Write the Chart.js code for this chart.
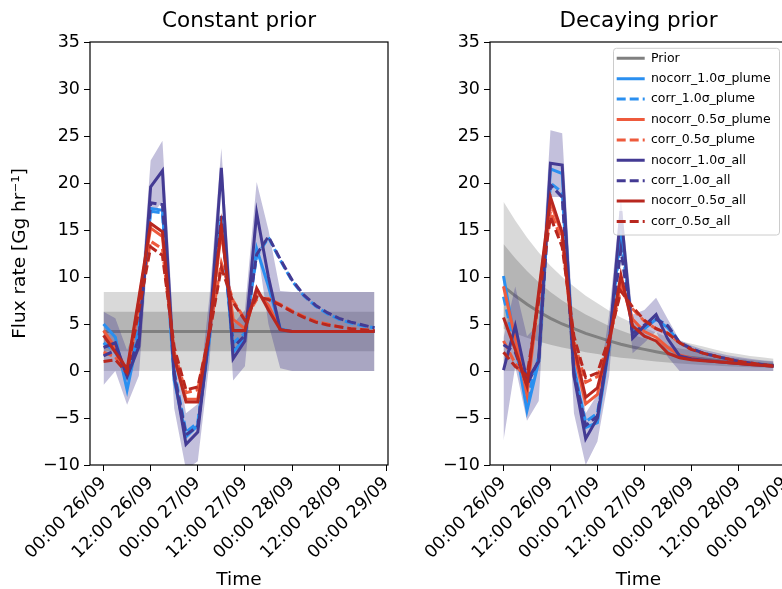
<!DOCTYPE html>
<html>
<head>
<meta charset="utf-8">
<script src="https://cdn.jsdelivr.net/npm/chart.js@4.4.0/dist/chart.umd.min.js"></script>
<style>
html, body { margin: 0; padding: 0; background: #fff; overflow: hidden; width: 782px; height: 589px; }
.panel { position: absolute; top: 0; height: 589px; }
#left  { left: 0;     width: 395px; }
#right { left: 400px; width: 394px; }
</style>
</head>
<body>
<div class="panel" id="left"><canvas id="constChart"></canvas></div>
<div class="panel" id="right"><canvas id="decayChart"></canvas></div>
<script>
/* ========= DATA ========= */
const hours = [0,3,6,9,12,15,18,21,24,27,30,33,36,39,42,45,48,51,54,57,60,63,66,69];
const tickHours  = [0,12,24,36,48,60,72];
const tickLabels = ["00:00 26/09","12:00 26/09","00:00 27/09","12:00 27/09","00:00 28/09","12:00 28/09","00:00 29/09"];
const yTicks = [-10,-5,0,5,10,15,20,25,30,35];

const seriesNames = [
  "nocorr_1.0σ_plume", "corr_1.0σ_plume",
  "nocorr_0.5σ_plume", "corr_0.5σ_plume",
  "nocorr_1.0σ_all",   "corr_1.0σ_all",
  "nocorr_0.5σ_all",   "corr_0.5σ_all"
];

// constant prior panel
const constPrior   = [4.2,4.2,4.2,4.2,4.2,4.2,4.2,4.2,4.2,4.2,4.2,4.2,4.2,4.2,4.2,4.2,4.2,4.2,4.2,4.2,4.2,4.2,4.2,4.2];
const constInnerUp = [6.3,6.3,6.3,6.3,6.3,6.3,6.3,6.3,6.3,6.3,6.3,6.3,6.3,6.3,6.3,6.3,6.3,6.3,6.3,6.3,6.3,6.3,6.3,6.3];
const constInnerLo = [2.1,2.1,2.1,2.1,2.1,2.1,2.1,2.1,2.1,2.1,2.1,2.1,2.1,2.1,2.1,2.1,2.1,2.1,2.1,2.1,2.1,2.1,2.1,2.1];
const constOuterUp = [8.4,8.4,8.4,8.4,8.4,8.4,8.4,8.4,8.4,8.4,8.4,8.4,8.4,8.4,8.4,8.4,8.4,8.4,8.4,8.4,8.4,8.4,8.4,8.4];
const constOuterLo = [0,0,0,0,0,0,0,0,0,0,0,0,0,0,0,0,0,0,0,0,0,0,0,0];
const constNP10 = [5.0,3.6,-2.0,4.0,17.3,17.1,-1.0,-7.0,-5.8,3.5,16.4,2.0,3.5,13.0,9.0,4.5,4.2,4.2,4.2,4.2,4.2,4.2,4.2,4.2];
const constCP10 = [3.0,2.0,-0.5,4.5,17.0,16.8,0.0,-6.5,-5.5,4.0,16.0,3.0,4.0,12.2,14.2,11.8,9.6,8.0,6.9,6.1,5.5,5.1,4.8,4.6];
const constNP05 = [4.3,2.5,0.0,7.5,15.2,14.3,1.5,-3.0,-3.0,4.5,14.8,5.5,4.5,8.5,7.0,4.4,4.2,4.2,4.2,4.2,4.2,4.2,4.2,4.2];
const constCP05 = [2.0,1.5,-0.3,7.0,13.8,13.0,2.0,-2.3,-2.0,4.2,11.5,7.5,5.5,7.6,7.7,7.1,6.4,5.8,5.3,5.0,4.7,4.5,4.4,4.3];
const constNA10 = [2.5,3.0,-0.6,2.6,19.6,21.3,-0.5,-7.8,-6.5,4.3,21.6,1.3,3.2,16.8,10.0,4.4,4.2,4.2,4.2,4.2,4.2,4.2,4.2,4.2];
const constCA10 = [1.6,2.2,-0.2,3.5,17.9,17.7,-0.3,-6.8,-5.9,4.2,16.5,2.5,3.8,12.4,14.3,11.9,9.7,8.1,7.0,6.2,5.6,5.2,4.9,4.6];
const constNA05 = [3.8,2.0,0.2,7.8,15.7,14.8,1.5,-3.3,-3.3,4.5,15.4,4.3,4.3,8.8,6.5,4.4,4.2,4.2,4.2,4.2,4.2,4.2,4.2,4.2];
const constCA05 = [1.0,1.2,-0.2,6.5,13.2,12.3,2.5,-2.0,-1.7,4.0,11.0,7.3,5.4,7.9,7.6,7.0,6.3,5.7,5.2,4.9,4.7,4.5,4.4,4.3];
const constBandUp = [6.3,5.6,2.2,5.5,22.4,24.5,3.0,-4.5,-3.5,8.0,23.7,5.0,6.5,20.1,15.0,8.5,8.4,8.4,8.4,8.4,8.4,8.4,8.4,8.4];
const constBandLo = [-1.5,0.0,-3.6,-0.5,16.5,18.0,-4.0,-10.5,-9.6,1.0,19.5,-1.0,0.5,13.5,5.0,0.3,0,0,0,0,0,0,0,0];

// decaying prior panel
const decayPrior   = [9.0,8.0,7.1,6.3,5.6,5.0,4.5,4.0,3.6,3.2,2.85,2.55,2.3,2.05,1.8,1.6,1.45,1.3,1.15,1.0,0.9,0.8,0.72,0.65];
const decayInnerUp = [13.5,12.0,10.65,9.45,8.4,7.5,6.75,6.0,5.4,4.8,4.3,3.85,3.45,3.1,2.7,2.4,2.2,1.95,1.7,1.5,1.35,1.2,1.08,0.98];
const decayInnerLo = [4.5,4.0,3.55,3.15,2.8,2.5,2.25,2.0,1.8,1.6,1.4,1.3,1.15,1.0,0.9,0.8,0.72,0.65,0.58,0.5,0.45,0.4,0.36,0.33];
const decayOuterUp = [18.0,16.0,14.2,12.6,11.2,10.0,9.0,8.0,7.2,6.4,5.7,5.1,4.6,4.1,3.6,3.2,2.9,2.6,2.3,2.0,1.8,1.6,1.45,1.3];
const decayOuterLo = [0,0,0,0,0,0,0,0,0,0,0,0,0,0,0,0,0,0,0,0,0,0,0,0];
const decayNP10 = [10.1,3.0,-4.2,1.0,21.5,21.0,0.5,-6.0,-5.5,2.5,15.5,4.0,4.5,5.5,4.6,3.0,2.3,1.9,1.6,1.3,1.05,0.85,0.7,0.55];
const decayCP10 = [7.9,2.5,-3.0,1.5,20.0,19.0,0.0,-5.4,-4.5,3.0,14.3,4.2,4.8,5.6,4.8,3.0,2.4,1.9,1.6,1.3,1.05,0.85,0.7,0.55];
const decayNP05 = [9.0,3.5,-2.5,8.0,18.0,14.5,2.0,-3.5,-2.5,3.0,9.5,5.5,4.2,3.6,2.5,1.7,1.35,1.15,1.0,0.9,0.8,0.7,0.6,0.5];
const decayCP05 = [3.2,0.8,-1.0,7.8,17.0,13.8,3.2,-1.2,-0.6,3.3,8.8,6.6,5.3,4.5,4.0,3.0,2.3,1.9,1.6,1.3,1.05,0.85,0.7,0.55];
const decayNA10 = [0.1,4.8,-1.0,1.0,22.1,21.9,-0.5,-7.2,-5.0,2.8,17.0,3.5,4.8,6.0,3.4,1.6,1.3,1.15,1.0,0.9,0.8,0.7,0.6,0.5];
const decayCA10 = [2.8,2.0,-1.5,1.2,19.8,18.5,-0.2,-5.8,-4.8,3.0,12.9,4.0,4.9,5.5,4.8,3.0,2.4,1.9,1.6,1.3,1.05,0.85,0.7,0.55];
const decayNA05 = [5.7,2.3,-1.6,8.4,18.5,14.7,2.6,-2.8,-1.8,3.0,10.2,4.8,3.7,3.2,1.9,1.4,1.2,1.1,1.0,0.9,0.8,0.7,0.6,0.5];
const decayCA05 = [2.0,0.5,-0.5,7.5,16.4,13.2,3.7,-0.7,-0.2,3.5,8.5,6.8,5.4,4.5,4.0,3.0,2.3,1.9,1.6,1.3,1.05,0.85,0.7,0.55];
const decayBandUp = [3.5,9.0,3.7,5.0,25.6,25.3,3.5,-4.5,-2.5,6.0,18.5,6.0,6.5,7.8,5.5,3.3,2.7,2.3,2.0,1.7,1.5,1.3,1.15,1.05];
const decayBandLo = [-7.4,0.5,-5.3,-3.2,18.5,18.5,-4.5,-10.0,-7.5,-0.5,15.5,1.9,3.0,4.2,1.5,0,0,0,0,0,0,0,0,0];

/* ========= STYLE ========= */
const FONT   = "'DejaVu Sans', sans-serif";
const GREY   = "#808080";
const BLUE   = "#2a8ff0";
const TOMATO = "#ee5a3c";
const PURPLE = "#433a93";
const RED    = "#b8271f";
const DASH   = [9, 4];

Chart.defaults.font.family = FONT;
Chart.defaults.color = "#000";

function xy(vals){ return vals.map((v, i) => ({ x: hours[i], y: v })); }

function band(label, vals, fill, color, order){
  return { label, data: xy(vals), fill, backgroundColor: color, borderColor: "transparent",
           borderWidth: 0, pointRadius: 0, order };
}
function line(label, vals, color, dash, order){
  return { label, data: xy(vals), borderColor: color, backgroundColor: color, borderWidth: 3,
           borderDash: dash, pointRadius: 0, fill: false, order };
}

function buildDatasets(s){
  return [
    band("_outerUp", s.outerUp, 1, "rgba(128,128,128,0.3)", 100),
    band("_outerLo", s.outerLo, false, "transparent", 100),
    band("_innerUp", s.innerUp, 3, "rgba(128,128,128,0.4)", 99),
    band("_innerLo", s.innerLo, false, "transparent", 99),
    line("Prior", s.prior, GREY, [], 98),
    band("_bandUp", s.bandUp, 6, "rgba(67,58,147,0.32)", 97),
    band("_bandLo", s.bandLo, false, "transparent", 97),
    line(seriesNames[0], s.np10, BLUE,   [],   8),
    line(seriesNames[1], s.cp10, BLUE,   DASH, 7),
    line(seriesNames[2], s.np05, TOMATO, [],   6),
    line(seriesNames[3], s.cp05, TOMATO, DASH, 5),
    line(seriesNames[4], s.na10, PURPLE, [],   4),
    line(seriesNames[5], s.ca10, PURPLE, DASH, 3),
    line(seriesNames[6], s.na05, RED,    [],   2),
    line(seriesNames[7], s.ca05, RED,    DASH, 1)
  ];
}

/* ========= FRAME + LEGEND PLACEMENT ========= */
function drawLegendFrame(chart){
  const lg = chart.legend;
  if (!lg || !lg.options.display) return;
  const a = chart.chartArea, ctx = chart.ctx;
  ctx.save();
  ctx.beginPath();
  ctx.roundRect(a.right - 173.5, a.top + 6.3, 166, 186.7, 3);
  ctx.fillStyle = "rgba(255,255,255,0.8)";
  ctx.fill();
  ctx.strokeStyle = "#cccccc";
  ctx.lineWidth = 1;
  ctx.stroke();
  ctx.restore();
}

const framePlugin = {
  id: "frame",
  beforeUpdate(chart){
    const lg = chart.legend;
    if (lg) lg._layers = () => [{ z: 10, draw: area => { drawLegendFrame(chart); lg.draw(area); } }];
  },
  afterLayout(chart){
    const lg = chart.legend;
    if (!lg || !lg.options.display) return;
    const a = chart.chartArea;
    const pad = lg.options.labels.padding, fs = lg.options.labels.font.size;
    lg.left = a.right - 173.5 + 3.2 - pad;
    lg.top  = a.top + 6.3 + 10 - pad - fs / 2;
    lg.right = lg.left + lg.width;
    lg.bottom = lg.top + lg.height;
  },
  afterDatasetsDraw(chart){
    const a = chart.chartArea, ctx = chart.ctx;
    ctx.save();
    ctx.strokeStyle = "#000";
    ctx.lineWidth = 1.2;
    ctx.strokeRect(a.left, a.top, a.right - a.left, a.bottom - a.top);
    ctx.restore();
  }
};

/* ========= CHART SETUP ========= */
function buildChart(canvasId, titleText, s, showLegend, showYTitle){
  return new Chart(document.getElementById(canvasId), {
    type: "line",
    data: { datasets: buildDatasets(s) },
    options: {
      responsive: true,
      maintainAspectRatio: false,
      animation: false,
      events: [],
      layout: { padding: { left: 0, right: 7, top: 0, bottom: 0 } },
      scales: {
        x: {
          type: "linear", min: -3.45, max: 72.45,
          afterBuildTicks: sc => { sc.ticks = tickHours.map(v => ({ value: v })); },
          afterFit: sc => { sc.height = 124; sc.paddingLeft = 0; sc.paddingRight = 0; },
          ticks: { autoSkip: false, minRotation: 45, maxRotation: 45, padding: 2,
                   font: { size: 17.5 }, color: "#000",
                   callback: (v, i) => tickLabels[i] },
          grid: { drawOnChartArea: false, drawTicks: true, tickLength: 6, tickColor: "#000", tickWidth: 1 },
          border: { display: false },
          title: { display: true, text: "Time", font: { size: 18.5, lineHeight: 0.9 }, color: "#000",
                   padding: { top: 0, bottom: 0 } }
        },
        y: {
          min: -10, max: 35,
          afterBuildTicks: sc => { sc.ticks = yTicks.map(v => ({ value: v })); },
          afterFit: sc => { sc.width = 90; sc.paddingTop = 0; sc.paddingBottom = 0; },
          ticks: { padding: 4, font: { size: 17.5 }, color: "#000",
                   callback: v => v < 0 ? "\u2212" + (-v) : String(v) },
          grid: { drawOnChartArea: false, drawTicks: true, tickLength: 6, tickColor: "#000", tickWidth: 1 },
          border: { display: false },
          title: { display: showYTitle, text: "Flux rate [Gg hr\u207B\u00B9]", font: { size: 18.5 }, color: "#000",
                   padding: { top: 9 } }
        }
      },
      plugins: {
        title: { display: true, text: titleText, fullSize: false, color: "#000",
                 font: { size: 21.5, weight: "normal" }, padding: { top: 9, bottom: 7.2 } },
        legend: {
          display: showLegend,
          position: "chartArea",
          align: "start",
          labels: {
            usePointStyle: true,
            pointStyleWidth: 28,
            boxHeight: 12.5,
            padding: 7.9,
            color: "#000",
            font: { size: 12.5 },
            generateLabels: chart => chart.data.datasets
              .map((ds, i) => ({
                text: ds.label, datasetIndex: i, hidden: false,
                strokeStyle: ds.borderColor, fillStyle: ds.borderColor,
                lineWidth: ds.borderWidth, lineDash: ds.borderDash, pointStyle: "line", fontColor: "#000"
              }))
              .filter(it => !it.text.startsWith("_"))
          }
        },
        tooltip: { enabled: false }
      }
    },
    plugins: [framePlugin]
  });
}

buildChart("constChart", "Constant prior", {
  prior: constPrior, innerUp: constInnerUp, innerLo: constInnerLo, outerUp: constOuterUp, outerLo: constOuterLo,
  bandUp: constBandUp, bandLo: constBandLo,
  np10: constNP10, cp10: constCP10, np05: constNP05, cp05: constCP05,
  na10: constNA10, ca10: constCA10, na05: constNA05, ca05: constCA05
}, false, true);

buildChart("decayChart", "Decaying prior", {
  prior: decayPrior, innerUp: decayInnerUp, innerLo: decayInnerLo, outerUp: decayOuterUp, outerLo: decayOuterLo,
  bandUp: decayBandUp, bandLo: decayBandLo,
  np10: decayNP10, cp10: decayCP10, np05: decayNP05, cp05: decayCP05,
  na10: decayNA10, ca10: decayCA10, na05: decayNA05, ca05: decayCA05
}, true, false);
</script>
</body>
</html>
